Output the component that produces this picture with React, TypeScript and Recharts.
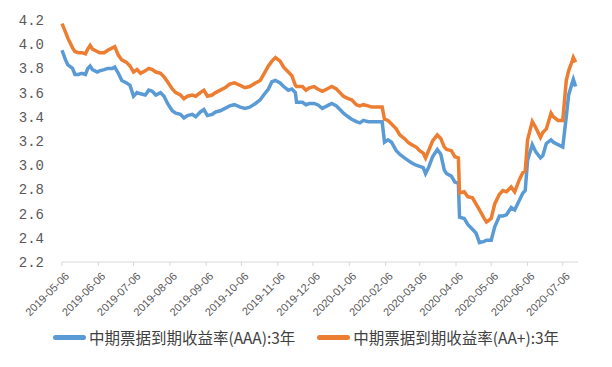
import { LineChart, Line, XAxis, YAxis, Legend } from "recharts";

// days since 2019-05-06
const dayOffset = [
  0, 3, 5, 9, 11, 14, 17, 20, 22, 24, 26, 30, 32, 36, 39, 43, 45, 48, 51, 55,
  58, 61, 64, 67, 71, 74, 77, 80, 84, 87, 90, 94, 97, 101, 104, 107, 111, 114, 118, 121,
  124, 128, 131, 135, 139, 143, 147, 152, 156, 160, 165, 169, 172, 176, 179, 182, 186, 189, 193, 196,
  199, 200, 205, 208, 211, 215, 218, 222, 226, 230, 234, 237, 240, 244, 247, 251, 254, 257, 261, 264,
  269, 273, 275, 278, 281, 285, 288, 292, 295, 298, 302, 305, 308, 310, 313, 316, 320, 323, 326, 328,
  332, 335, 338, 339, 343, 346, 350, 353, 356, 360, 362, 366, 369, 373, 376, 379, 383, 386, 390, 393,
  395, 397, 401, 404, 408, 410, 413, 417, 419, 423, 427, 430, 432, 435, 436, 438,
];

const aaaYield = [
  3.95, 3.87, 3.83, 3.8, 3.75, 3.75, 3.76, 3.75, 3.8, 3.82, 3.79, 3.77, 3.78, 3.79, 3.8, 3.8, 3.81, 3.76, 3.7, 3.68,
  3.66, 3.57, 3.6, 3.59, 3.58, 3.62, 3.61, 3.58, 3.6, 3.57, 3.51, 3.45, 3.43, 3.42, 3.39, 3.41, 3.42, 3.4, 3.44, 3.46,
  3.41, 3.42, 3.44, 3.45, 3.47, 3.49, 3.5, 3.48, 3.47, 3.48, 3.51, 3.54, 3.58, 3.63, 3.69, 3.7, 3.68, 3.65, 3.62, 3.63,
  3.6, 3.52, 3.52, 3.5, 3.51, 3.51, 3.5, 3.47, 3.49, 3.51, 3.49, 3.46, 3.43, 3.4, 3.38, 3.36, 3.35, 3.37, 3.36, 3.36,
  3.36, 3.36, 3.19, 3.21, 3.19, 3.12, 3.09, 3.06, 3.04, 3.02, 3.0, 2.99, 2.98, 2.93, 2.99, 3.07, 3.13, 3.09, 2.96, 2.93,
  2.91, 2.86, 2.85, 2.57, 2.56, 2.51, 2.47, 2.44, 2.36, 2.37, 2.38, 2.38, 2.49, 2.58, 2.58, 2.59, 2.65, 2.63, 2.71, 2.77,
  2.79, 3.04, 3.17, 3.11, 3.06, 3.08, 3.18, 3.21, 3.19, 3.17, 3.15, 3.4, 3.58, 3.68, 3.71, 3.65,
];

const aaPlusYield = [
  4.17, 4.1, 4.05, 3.97, 3.94, 3.93, 3.93, 3.92, 3.96, 3.99, 3.96, 3.94, 3.93, 3.93, 3.95, 3.97, 3.98, 3.91, 3.87, 3.85,
  3.82, 3.77, 3.79, 3.76, 3.78, 3.8, 3.79, 3.77, 3.76, 3.73, 3.69, 3.63, 3.6, 3.58, 3.55, 3.57, 3.58, 3.57, 3.6, 3.62,
  3.57, 3.58, 3.6, 3.62, 3.64, 3.67, 3.68, 3.66, 3.64, 3.65, 3.68, 3.7, 3.75, 3.82, 3.86, 3.89, 3.86, 3.81, 3.77, 3.74,
  3.66, 3.65, 3.65, 3.62, 3.64, 3.65, 3.63, 3.61, 3.63, 3.65, 3.63, 3.6, 3.57, 3.55, 3.54, 3.5, 3.49, 3.5, 3.49, 3.48,
  3.48, 3.48, 3.38, 3.37, 3.34, 3.3, 3.25, 3.22, 3.19, 3.17, 3.15, 3.12, 3.1, 3.06, 3.13, 3.2, 3.25, 3.22, 3.15, 3.13,
  3.12, 3.07, 3.06, 2.77, 2.78, 2.74, 2.73, 2.68, 2.63, 2.56, 2.53, 2.56, 2.68, 2.76, 2.79, 2.78, 2.82, 2.78, 2.88, 2.94,
  2.95, 3.21, 3.36, 3.31, 3.23, 3.27, 3.3, 3.43, 3.4, 3.37, 3.37, 3.7, 3.78, 3.86, 3.89, 3.85,
];

const tickDates = [
  "2019-05-06", "2019-06-06", "2019-07-06", "2019-08-06", "2019-09-06",
  "2019-10-06", "2019-11-06", "2019-12-06", "2020-01-06", "2020-02-06",
  "2020-03-06", "2020-04-06", "2020-05-06", "2020-06-06", "2020-07-06",
];

const yTicks = [2.2, 2.4, 2.6, 2.8, 3.0, 3.2, 3.4, 3.6, 3.8, 4.0, 4.2];

const seriesNames = ["中期票据到期收益率(AAA):3年", "中期票据到期收益率(AA+):3年"];
const BLUE = "#5B9BD5";
const ORANGE = "#ED7D31";

const start = Date.UTC(2019, 4, 6);
const dayOf = (s: string) => {
  const [y, m, d] = s.split("-").map(Number);
  return Math.round((Date.UTC(y, m - 1, d) - start) / 86400000);
};
const tickDays = tickDates.map(dayOf);

const data = dayOffset.map((d, i) => ({
  day: d,
  aaa: aaaYield[i],
  aaPlus: aaPlusYield[i],
}));

const DateTick = (props: any) => {
  const { x, y, payload } = props;
  const idx = tickDays.indexOf(payload.value);
  const label = idx >= 0 ? tickDates[idx] : "";
  return (
    <g transform={`translate(${x + 5},${y + 6})`}>
      <text
        x={0}
        y={0}
        transform="rotate(-45)"
        textAnchor="end"
        dominantBaseline="central"
        fontSize={11}
        fontFamily="'Liberation Sans', sans-serif"
        fill="#595959"
      >
        {label}
      </text>
    </g>
  );
};

const LegendBox = () => (
  <div
    style={{
      display: "flex",
      justifyContent: "center",
      alignItems: "center",
      width: 612,
      height: 20,
      fontFamily: "'Noto Sans CJK SC', sans-serif",
      fontSize: 15.5,
      color: "#404040",
    }}
  >
    {seriesNames.map((name, i) => (
      <div
        key={name}
        style={{ display: "flex", alignItems: "center", marginLeft: i ? 22 : 0 }}
      >
        <span
          style={{
            display: "inline-block",
            width: 33,
            height: 5,
            borderRadius: 3,
            background: i ? ORANGE : BLUE,
            marginRight: 3,
          }}
        />
        <span>{name}</span>
      </div>
    ))}
  </div>
);

export default function App() {
  return (
    <div
      style={{
        position: "absolute",
        left: 0,
        top: 0,
        width: 612,
        height: 367,
        background: "#fff",
      }}
    >
      <LineChart
        width={612}
        height={367}
        data={data}
        margin={{ top: 20, right: 34, left: 0, bottom: 20 }}
      >
        <XAxis
          dataKey="day"
          type="number"
          domain={[0, 440]}
          ticks={tickDays}
          interval={0}
          height={65}
          tick={<DateTick />}
          tickSize={4}
          stroke="#d9d9d9"
        />
        <YAxis
          domain={[2.2, 4.2]}
          ticks={yTicks}
          width={62}
          axisLine={false}
          tickLine={false}
          tickMargin={12}
          tickFormatter={(v: number) => v.toFixed(1)}
          tick={{
            fill: "#595959",
            fontSize: 14,
            fontFamily: "'Liberation Mono', monospace",
          }}
        />
        <Legend
          verticalAlign="bottom"
          wrapperStyle={{ left: 0, width: 612 }}
          content={<LegendBox />}
        />
        <Line
          type="linear"
          dataKey="aaa"
          name={seriesNames[0]}
          stroke={BLUE}
          strokeWidth={3.5}
          dot={false}
          isAnimationActive={false}
        />
        <Line
          type="linear"
          dataKey="aaPlus"
          name={seriesNames[1]}
          stroke={ORANGE}
          strokeWidth={3.5}
          dot={false}
          isAnimationActive={false}
        />
      </LineChart>
    </div>
  );
}
